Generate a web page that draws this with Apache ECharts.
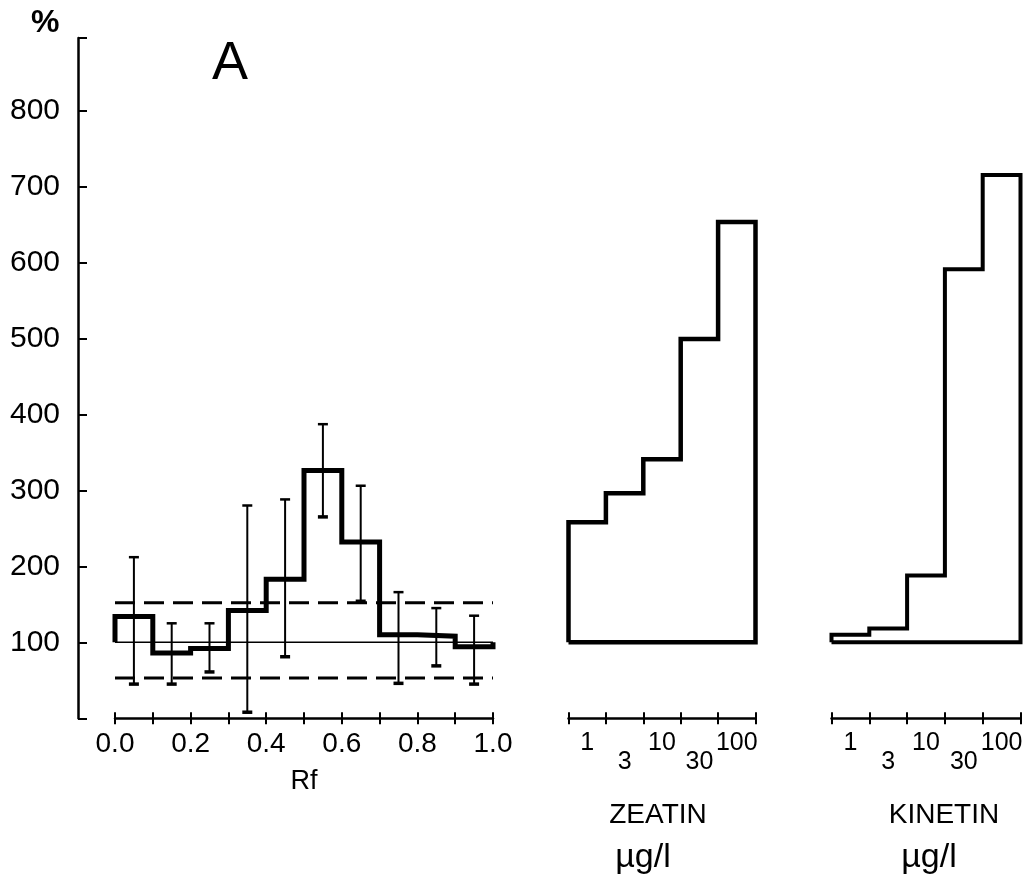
<!DOCTYPE html>
<html><head><meta charset="utf-8">
<script src="https://cdn.jsdelivr.net/npm/echarts@6/dist/echarts.min.js"></script>
<style>html,body{margin:0;padding:0;background:#fff}#c{width:1027px;height:881px}</style>
</head><body><div id="c"></div>
<script>
// ---- data ----
const yTickValues = [100, 200, 300, 400, 500, 600, 700, 800];
const rfEdges = [0.0, 0.1, 0.2, 0.3, 0.4, 0.5, 0.6, 0.7, 0.8, 0.9, 1.0];
const rfCenters = [0.05, 0.15, 0.25, 0.35, 0.45, 0.55, 0.65, 0.75, 0.85, 0.95];
const rfTickLabels = ['0.0', '0.2', '0.4', '0.6', '0.8', '1.0'];
const rfValues = [134, 86, 92, 142, 183, 326, 232, 110, 108, 94];
const rfErrHigh = [212, 125, 125, 280, 288, 387, 306, 166, 145, 135];
const rfErrLow = [45, 45, 61, 8, 81, 265, 154, 46, 69, 45];
const controlLevel = 100;
const limitUpper = 152;
const limitLower = 53;
const doseCategories = ['1', '3', '10', '30', '100'];
const doseEdges = [0, 1, 2, 3, 4, 5];
const zeatinValues = [258, 296, 341, 499, 653];
const kinetinValues = [110, 118, 188, 591, 715];

// ---- chart ----
const FONT = '"Liberation Sans", Arial, sans-serif';
const Y_MIN = 0, Y_MAX = 895;
const TOP = 38.1, BOTTOM = 162.7;

function stepOutline(edges, vals, base) {
  const pts = [[edges[0], base]];
  vals.forEach((v, i) => pts.push([edges[i], v]));
  pts.push([edges[edges.length - 1], vals[vals.length - 1]]);
  pts.push([edges[edges.length - 1], base]);
  return pts;
}
function closedStep(edges, vals, base) {
  const pts = stepOutline(edges, vals, base);
  pts.push([edges[0], base]);
  return pts;
}

const hiddenY = (gi) => ({ type: 'value', gridIndex: gi, min: Y_MIN, max: Y_MAX, show: false });

function doseAxes(gi) {
  const common = {
    type: 'category', gridIndex: gi, data: doseCategories, boundaryGap: true, position: 'bottom',
    axisLine: { show: true, lineStyle: { color: '#000', width: 2.5 } },
    splitLine: { show: false }
  };
  return [
    { type: 'value', gridIndex: gi, min: 0, max: 5, show: false },
    Object.assign({}, common, {
      axisTick: { show: true, inside: true, length: 6, interval: 0, lineStyle: { color: '#000', width: 2 } },
      axisLabel: {
        show: true, interval: 0, margin: 12, color: '#000', fontFamily: FONT, fontSize: 25,
        formatter: (v, i) => (i % 2 ? '{lo|' + v + '}' : '{hi|' + v + '}'),
        rich: {
          hi: { fontFamily: FONT, fontSize: 25, color: '#000', lineHeight: 26 },
          lo: { fontFamily: FONT, fontSize: 25, color: '#000', lineHeight: 64 }
        }
      }
    }),
    Object.assign({}, common, {
      axisLine: { show: false },
      axisTick: { show: true, inside: false, length: 6, interval: 0, lineStyle: { color: '#000', width: 2 } },
      axisLabel: { show: false }
    })
  ];
}

const option = {
  backgroundColor: '#fff',
  animation: false,
  grid: [
    { left: 78, width: 10, top: TOP, bottom: BOTTOM, outerBoundsMode: 'none' },
    { left: 115, width: 378, top: TOP, bottom: BOTTOM, outerBoundsMode: 'none' },
    { left: 568.5, width: 187, top: TOP, bottom: BOTTOM, outerBoundsMode: 'none' },
    { left: 831.5, width: 189, top: TOP, bottom: BOTTOM, outerBoundsMode: 'none' }
  ],
  yAxis: [
    {
      type: 'value', gridIndex: 0, min: Y_MIN, max: Y_MAX, interval: 100, position: 'left',
      axisLine: { show: true, lineStyle: { color: '#000', width: 2.5 } },
      axisTick: { show: true, inside: true, length: 9, lineStyle: { color: '#000', width: 2 } },
      splitLine: { show: false },
      axisLabel: {
        show: true, margin: 18, color: '#000', fontFamily: FONT, fontSize: 30,
        formatter: (v) => (yTickValues.indexOf(v) >= 0 ? String(v) : '')
      }
    },
    hiddenY(1), hiddenY(2), hiddenY(3)
  ],
  xAxis: [
    { type: 'value', gridIndex: 0, show: false, min: 0, max: 1 },
    {
      type: 'value', gridIndex: 1, min: 0, max: 1, interval: 0.1, position: 'bottom',
      axisLine: { show: true, lineStyle: { color: '#000', width: 2.5 } },
      axisTick: { show: true, inside: true, length: 6, lineStyle: { color: '#000', width: 2 } },
      splitLine: { show: false },
      axisLabel: {
        show: true, margin: 12, color: '#000', fontFamily: FONT, fontSize: 28,
        formatter: (v) => {
          const lbl = v.toFixed(1);
          return rfTickLabels.indexOf(lbl) >= 0 ? lbl : '';
        }
      },
      name: 'Rf', nameLocation: 'middle', nameGap: 50,
      nameTextStyle: { color: '#000', fontFamily: FONT, fontSize: 27 }
    },
    {
      type: 'value', gridIndex: 1, min: 0, max: 1, interval: 0.1, position: 'bottom',
      axisLine: { show: false },
      axisTick: { show: true, inside: false, length: 6, lineStyle: { color: '#000', width: 2 } },
      splitLine: { show: false },
      axisLabel: { show: false }
    },
    ...doseAxes(2),
    ...doseAxes(3)
  ],
  graphic: [
    { type: 'text', left: 31, top: 7, style: { text: '%', fontFamily: FONT, fontSize: 32, fontWeight: 'bold', fill: '#000' } },
    { type: 'text', left: 212, top: 37, style: { text: 'A', fontFamily: FONT, fontSize: 54, fill: '#000' } },
    { type: 'text', x: 658, y: 815, style: { text: 'ZEATIN', fontFamily: FONT, fontSize: 28, fill: '#000', align: 'center', verticalAlign: 'middle' } },
    { type: 'text', x: 643, y: 858, style: { text: 'µg/l', fontFamily: FONT, fontSize: 34, fill: '#000', align: 'center', verticalAlign: 'middle' } },
    { type: 'text', x: 944, y: 815, style: { text: 'KINETIN', fontFamily: FONT, fontSize: 28, fill: '#000', align: 'center', verticalAlign: 'middle' } },
    { type: 'text', x: 929, y: 858, style: { text: 'µg/l', fontFamily: FONT, fontSize: 34, fill: '#000', align: 'center', verticalAlign: 'middle' } }
  ],
  series: [
    {
      name: 'control', type: 'line', xAxisIndex: 1, yAxisIndex: 1, symbol: 'none', clip: false,
      data: [[rfEdges[0], controlLevel], [rfEdges[rfEdges.length - 1], controlLevel]],
      lineStyle: { color: '#000', width: 1.6 }
    },
    {
      name: 'upper limit', type: 'line', xAxisIndex: 1, yAxisIndex: 1, symbol: 'none', clip: false,
      data: [[rfEdges[0], limitUpper], [rfEdges[rfEdges.length - 1], limitUpper]],
      lineStyle: { color: '#000', width: 3, type: [20, 9] }
    },
    {
      name: 'lower limit', type: 'line', xAxisIndex: 1, yAxisIndex: 1, symbol: 'none', clip: false,
      data: [[rfEdges[0], limitLower], [rfEdges[rfEdges.length - 1], limitLower]],
      lineStyle: { color: '#000', width: 3, type: [20, 9] }
    },
    {
      name: 'Rf activity', type: 'line', xAxisIndex: 1, yAxisIndex: 1, symbol: 'none', step: 'end', clip: false,
      data: stepOutline(rfEdges, rfValues, controlLevel),
      lineStyle: { color: '#000', width: 5, join: 'miter' }
    },
    {
      name: 'error', type: 'custom', xAxisIndex: 1, yAxisIndex: 1, clip: false, z: 5,
      data: rfCenters.map((c, i) => [c, rfErrLow[i], rfErrHigh[i]]),
      renderItem: (params, api) => {
        const top = api.coord([api.value(0), api.value(2)]);
        const bot = api.coord([api.value(0), api.value(1)]);
        const hw = 5;
        return {
          type: 'group', children: [
            { type: 'line', shape: { x1: top[0], y1: top[1], x2: bot[0], y2: bot[1] }, style: { stroke: '#000', lineWidth: 2 } },
            { type: 'line', shape: { x1: top[0] - hw, y1: top[1], x2: top[0] + hw, y2: top[1] }, style: { stroke: '#000', lineWidth: 2.5 } },
            { type: 'line', shape: { x1: bot[0] - hw, y1: bot[1], x2: bot[0] + hw, y2: bot[1] }, style: { stroke: '#000', lineWidth: 3.5 } }
          ]
        };
      }
    },
    {
      name: 'Zeatin', type: 'line', xAxisIndex: 3, yAxisIndex: 2, symbol: 'none', step: 'end', clip: false,
      data: closedStep(doseEdges, zeatinValues, controlLevel),
      lineStyle: { color: '#000', width: 4.5, join: 'miter' }
    },
    {
      name: 'Kinetin', type: 'line', xAxisIndex: 6, yAxisIndex: 3, symbol: 'none', step: 'end', clip: false,
      data: closedStep(doseEdges, kinetinValues, controlLevel),
      lineStyle: { color: '#000', width: 4, join: 'miter' }
    }
  ]
};

const chart = echarts.init(document.getElementById('c'), null, { renderer: 'canvas' });
chart.setOption(option);
</script>
</body></html>
